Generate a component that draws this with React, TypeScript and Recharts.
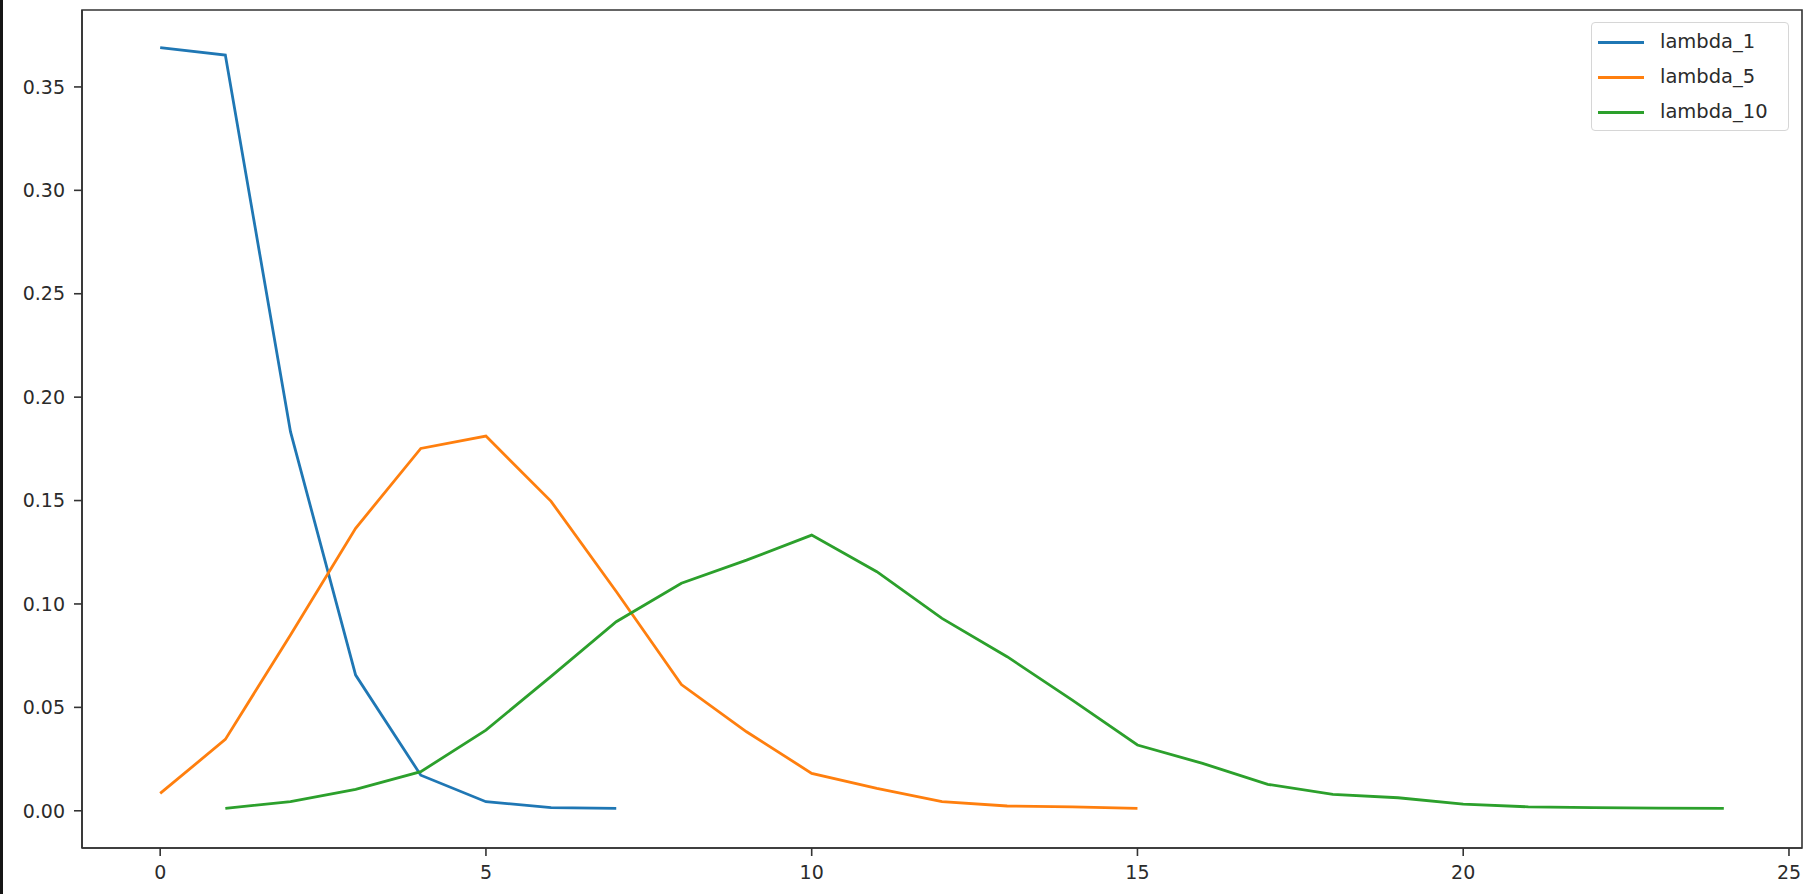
import React from 'react';
import { LineChart, Line, XAxis, YAxis, Legend, ReferenceArea } from 'recharts';

const seriesNames = ['lambda_1', 'lambda_5', 'lambda_10'];
const seriesColors = ['#1f77b4', '#ff7f0e', '#2ca02c'];
const seriesStartX = [0, 0, 1];

const lambda1Values = [0.369, 0.3654, 0.1833, 0.0656, 0.0172, 0.0044, 0.0015, 0.0012];
const lambda5Values = [0.0084, 0.0345, 0.085, 0.1366, 0.1752, 0.1812, 0.1496, 0.106, 0.061, 0.0382, 0.0181, 0.0108, 0.0044, 0.0023, 0.0019, 0.0012];
const lambda10Values = [0.0012, 0.0044, 0.0103, 0.0189, 0.039, 0.065, 0.0914, 0.11, 0.1212, 0.1333, 0.1156, 0.093, 0.0745, 0.0535, 0.0318, 0.0229, 0.0128, 0.0079, 0.0063, 0.0032, 0.0019, 0.0015, 0.0013, 0.0012];

const xTicks = [0, 5, 10, 15, 20, 25];
const yTicks = [0, 0.05, 0.1, 0.15, 0.2, 0.25, 0.3, 0.35];

const X_DOMAIN: [number, number] = [-1.2, 25.2];
const Y_DOMAIN: [number, number] = [-0.018, 0.3872];

const allValues = [lambda1Values, lambda5Values, lambda10Values];
const seriesData = allValues.map((vals, i) =>
  vals.map((v, j) => ({ x: seriesStartX[i] + j, y: v }))
);

const FONT = '"DejaVu Sans", sans-serif';
const TEXT = '#2b2b2b';

const renderLegend = () => (
  <div
    style={{
      width: 198,
      height: 109,
      border: '1px solid #d6d6d6',
      borderRadius: 4,
      background: 'rgba(255,255,255,0.8)',
      boxSizing: 'border-box',
      fontFamily: FONT,
      fontSize: 19.5,
      color: TEXT,
      position: 'relative',
    }}
  >
    {seriesNames.map((n, i) => (
      <div key={n} style={{ position: 'absolute', left: 0, top: 6 + i * 35, height: 26, display: 'flex', alignItems: 'center' }}>
        <div style={{ marginLeft: 6, width: 46, height: 3, background: seriesColors[i] }} />
        <span style={{ marginLeft: 16, lineHeight: '26px', whiteSpace: 'nowrap' }}>{n}</span>
      </div>
    ))}
  </div>
);

export default function App() {
  return (
    <div style={{ position: 'absolute', left: 0, top: 0, width: 1808, height: 894, background: '#fff', overflow: 'hidden' }}>
      <div style={{ position: 'absolute', left: 0, top: 0, width: 3, height: 894, background: '#151515' }} />
      <LineChart width={1808} height={894} margin={{ top: 10, right: 6, bottom: 0, left: 0 }}>
        <XAxis
          type="number"
          dataKey="x"
          domain={X_DOMAIN}
          ticks={xTicks}
          allowDataOverflow
          height={46}
          tickSize={8}
          tickMargin={10}
          axisLine={{ stroke: '#333', strokeWidth: 1.6 }}
          tickLine={{ stroke: '#333', strokeWidth: 1.6 }}
          tick={{ fill: TEXT, fontSize: 19, fontFamily: FONT }}
        />
        <YAxis
          type="number"
          dataKey="y"
          domain={Y_DOMAIN}
          ticks={yTicks}
          allowDataOverflow
          width={82}
          tickSize={8}
          tickMargin={9}
          tickFormatter={(v: number) => v.toFixed(2)}
          axisLine={{ stroke: '#333', strokeWidth: 1.6 }}
          tickLine={{ stroke: '#333', strokeWidth: 1.6 }}
          tick={{ fill: TEXT, fontSize: 19, fontFamily: FONT }}
        />
        <ReferenceArea
          x1={X_DOMAIN[0]}
          x2={X_DOMAIN[1]}
          y1={Y_DOMAIN[0]}
          y2={Y_DOMAIN[1]}
          fill="none"
          stroke="#333"
          strokeWidth={1.6}
          ifOverflow="visible"
        />
        {seriesData.map((d, i) => (
          <Line
            key={seriesNames[i]}
            data={d}
            dataKey="y"
            name={seriesNames[i]}
            type="linear"
            stroke={seriesColors[i]}
            strokeWidth={2.8}
            dot={false}
            activeDot={false}
            isAnimationActive={false}
          />
        ))}
        <Legend
          layout="vertical"
          align="center"
          verticalAlign="middle"
          content={renderLegend}
          wrapperStyle={{ position: 'absolute', left: 1591, top: 22, width: 198, height: 109 }}
        />
      </LineChart>
    </div>
  );
}
